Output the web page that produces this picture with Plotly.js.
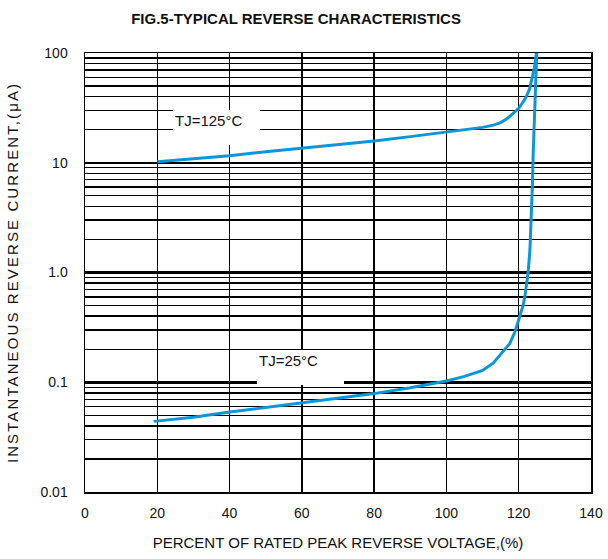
<!DOCTYPE html>
<html>
<head>
<meta charset="utf-8">
<script src="https://cdn.plot.ly/plotly-3.0.1.min.js"></script>
<style>html,body{margin:0;padding:0;background:#fff;}#chart{width:608px;height:559px;}
.ytitle{letter-spacing:2.1px;}</style>
</head>
<body>
<div id="chart"></div>
<script>
// Tj = 125 °C curve
var x125 = [20, 30, 40, 50, 60, 70, 80, 90, 100, 105, 110, 113, 115, 117, 118.5, 120, 121, 122, 123, 123.7, 124.3, 124.9];
var y125 = [10.2, 10.9, 11.6, 12.6, 13.6, 14.6, 15.8, 17.3, 19.1, 20, 21, 22, 23.2, 25.5, 28, 31.3, 35, 39.5, 47, 58, 72, 100];
// Tj = 25 °C curve
var x25 = [19, 30, 40, 50, 60, 70, 80, 90, 100, 105, 110, 113, 115.5, 117.5, 119, 120.3, 121.2, 121.7, 122.2, 122.6, 123.1, 123.5, 123.8, 124.0, 124.4, 125];
var y25 = [0.044, 0.048, 0.0535, 0.059, 0.0647, 0.071, 0.0788, 0.089, 0.1026, 0.113, 0.128, 0.15, 0.19, 0.225, 0.29, 0.39, 0.5, 0.6, 0.78, 1.0, 1.6, 3.2, 6.4, 12, 32, 100];

var xTicks = [0, 20, 40, 60, 80, 100, 120, 140];
var yTickVals = [0.01, 0.1, 1, 10, 100];
var yTickText = ["0.01", "0.1", "1.0", "10", "100"];
var labels = ["TJ=125°C", "TJ=25°C"];

var blue = "#0B96DA";
var font = "Liberation Sans, Arial, sans-serif";

var traces = [
  {x: x125, y: y125, mode: "lines", line: {color: blue, width: 3}, hoverinfo: "skip"},
  {x: x25, y: y25, mode: "lines", line: {color: blue, width: 3}, hoverinfo: "skip"}
];

var layout = {
  width: 608, height: 559,
  margin: {l: 84.5, r: 17, t: 52.7, b: 67.3},
  paper_bgcolor: "#fff", plot_bgcolor: "#fff",
  showlegend: false,
  font: {family: font, color: "#111", size: 14},
  title: {text: "<b>FIG.5-TYPICAL REVERSE CHARACTERISTICS</b>", x: 0.487, xanchor: "center", y: 0.966, yanchor: "middle", font: {family: font, size: 15, color: "#111"}},
  xaxis: {
    range: [0, 140], tickvals: xTicks, ticks: "", ticklabelstandoff: 8,
    showgrid: true, gridcolor: "#000", gridwidth: 1.5, zeroline: false,
    showline: true, linecolor: "#000", linewidth: 1.5, mirror: true,
    tickfont: {size: 14, family: font, color: "#111"},
    title: {text: "PERCENT OF RATED PEAK REVERSE VOLTAGE,(%)", standoff: 17, font: {size: 15, family: font, color: "#111"}}
  },
  yaxis: {
    type: "log", range: [-2, 2], tickvals: yTickVals, ticktext: yTickText, ticks: "", ticklabelstandoff: 13,
    showgrid: true, gridcolor: "#000", gridwidth: 2.5, zeroline: false,
    showline: true, linecolor: "#000", linewidth: 1.5, mirror: true,
    minor: {dtick: "D1", showgrid: true, gridcolor: "#000", gridwidth: 1.4, ticks: ""},
    tickfont: {size: 14, family: font, color: "#111"},
    title: {text: "INSTANTANEOUS REVERSE CURRENT,(μA)", standoff: 18, font: {size: 15, family: font, color: "#111"}}
  },
  annotations: [
    {x: 24.4, y: Math.log10(30.5), xref: "x", yref: "y", xanchor: "left", yanchor: "top", text: labels[0], showarrow: false,
     bgcolor: "#fff", borderwidth: 0, borderpad: 2, width: 83, height: 31, align: "left", valign: "top",
     font: {size: 15, family: font, color: "#111"}},
    {x: 47.6, y: Math.log10(0.196), xref: "x", yref: "y", xanchor: "left", yanchor: "top", text: labels[1], showarrow: false,
     bgcolor: "#fff", borderwidth: 0, borderpad: 2, width: 83, height: 31, align: "left", valign: "top",
     font: {size: 15, family: font, color: "#111"}}
  ]
};

Plotly.newPlot("chart", traces, layout, {displayModeBar: false, staticPlot: true});
</script>
</body>
</html>
